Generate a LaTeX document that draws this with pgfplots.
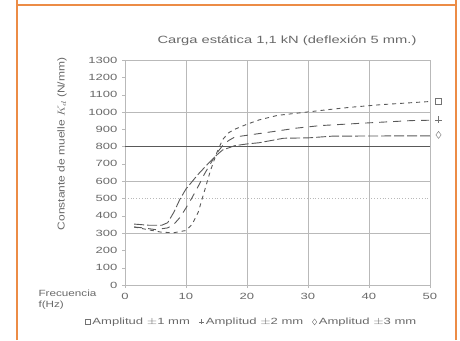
\documentclass[border=0pt]{standalone}
\usepackage{fontspec}
\setmainfont{Liberation Sans}
\usepackage{graphicx}
\usepackage{pgfplots}
\pgfplotsset{compat=1.18}
\definecolor{frameor}{RGB}{236,140,70}
\definecolor{txt}{RGB}{105,105,105}
\definecolor{grd}{RGB}{185,185,185}
\newcommand{\wide}[1]{\scalebox{1.45}[1]{#1}}
\begin{document}
\begin{tikzpicture}[x=1pt,y=1pt]
\useasboundingbox (0,0) rectangle (460,340);
\draw[frameor, line width=1.3pt] (17,340) -- (17,335) -- (456,335) -- (456,340);
\draw[frameor, line width=1.3pt] (17,0) -- (17,335);
\draw[frameor, line width=1.3pt] (456,0) -- (456,335);
\begin{axis}[
  at={(125pt,55pt)}, anchor=south west,
  width=305pt, height=225pt, scale only axis,
  xmin=0, xmax=50, ymin=0, ymax=1300,
  xtick={0,10,...,50}, ytick={0,100,...,1300},
  xtick pos=left, ytick pos=left, tick align=outside,
  major tick length=3pt,
  tick style={grd},
  axis line style={grd},
  xmajorgrids, grid style={grd, line width=0.5pt},
  extra y ticks={300,600,1000,1300},
  extra y tick labels={},
  extra y tick style={grid=major, grid style={grd, line width=0.5pt}},
  xticklabel={\wide{\pgfmathprintnumber[assume math mode=true]{\tick}}},
  yticklabel={\wide{\pgfmathprintnumber[assume math mode=true,1000 sep={}]{\tick}}},
  ticklabel style={font=\fontsize{9}{10}\selectfont, txt},
  xticklabel style={yshift=-2pt},
  yticklabel style={xshift=-1pt},
  clip=false,
  legend columns=3,
  legend style={at={(0.416,-0.164)}, anchor=center, draw=none, fill=none,
    font=\fontsize{9}{10}\selectfont\color{txt},
    /tikz/every even column/.append style={column sep=7pt}},
  legend cell align=left,
]
% reference lines
\addplot[black!65, line width=1.6pt, forget plot] coordinates {(0,800) (50,800)};
\addplot[grd, dotted, line width=0.8pt, forget plot] coordinates {(0,500) (50,500)};
% Amplitud 1 mm (top plateau)
\addplot[black!65, line width=0.9pt, dash pattern=on 4pt off 4pt, forget plot] coordinates {
(1.5,335) (4,318) (6,305) (8,302) (10,315) (11,350) (12,420) (13,540) (14,660) (15,760)
(16,840) (17,880) (18,900) (20,929) (22,954) (25,980) (29,996) (33,1012) (37,1027)
(42,1042) (49,1058) (50,1060)};
% Amplitud 2 mm (middle plateau)
\addplot[black!65, line width=0.9pt, dash pattern=on 8pt off 6pt, forget plot] coordinates {
(1.5,335) (3,330) (5,320) (7,330) (8,350) (9,390) (10,445) (11,505) (12,570) (13,640)
(14,700) (15,760) (16,805) (17,835) (18,855) (21,870) (25,890) (28,906) (32,921)
(39,935) (47,950) (50,952)};
% Amplitud 3 mm (bottom plateau)
\addplot[black!65, line width=0.9pt, dash pattern=on 10pt off 3pt, forget plot] coordinates {
(1.5,352) (4,345) (6,345) (7,360) (8,420) (9,495) (10,555) (12,640) (14,715) (15,750)
(16,780) (18,805) (20,815) (22,822) (26,848) (30,850) (34,860) (41,861) (50,862)};
% end markers
\addplot[only marks, mark=square, mark size=3pt, black!55, forget plot] coordinates {(51.4,1062)};
\addplot[only marks, mark=+, mark size=3.5pt, black!55, forget plot] coordinates {(51.4,954)};
\addplot[only marks, mark=diamond, mark size=3.5pt, black!55, forget plot] coordinates {(51.4,867)};
% legend
\addlegendimage{only marks, mark=square, mark size=2.5pt, black!55}
\addlegendentry{\wide{Amplitud $\pm$1 mm}}
\addlegendimage{only marks, mark=+, mark size=2.5pt, black!55}
\addlegendentry{\wide{Amplitud $\pm$2 mm}}
\addlegendimage{only marks, mark=diamond, mark size=3pt, black!55}
\addlegendentry{\wide{Amplitud $\pm$3 mm}}
\end{axis}
\node[txt, font=\fontsize{10.5}{12}\selectfont] at (287,299) {\scalebox{1.4}[1]{Carga estática 1,1 kN (deflexión 5 mm.)}};
\node[txt, font=\fontsize{10}{11}\selectfont, rotate=90] at (62,196) {\scalebox{1.2}[1]{Constante de muelle $K_d$ (N/mm)}};
\node[txt, font=\fontsize{9}{11}\selectfont, anchor=west, align=left] at (35,40) {\scalebox{1.3}[1]{Frecuencia}\\\scalebox{1.3}[1]{f(Hz)}};
\end{tikzpicture}
\end{document}
